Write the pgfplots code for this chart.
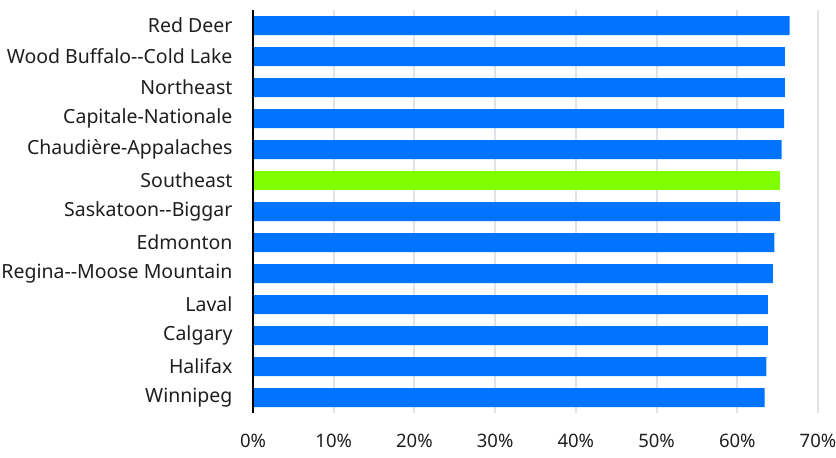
\documentclass[border=0pt]{standalone}
\usepackage{pgfplots}
\pgfplotsset{compat=1.18}
\usepackage{fontspec}
\setmainfont{Noto Sans}
\definecolor{barblue}{RGB}{0,116,255}
\definecolor{bargreen}{RGB}{127,255,0}
\definecolor{gridgray}{RGB}{225,226,232}
\definecolor{txt}{RGB}{30,30,30}
\newcommand{\dd}{-\kern0pt-}
\begin{document}
\begin{tikzpicture}
\useasboundingbox (-253pt,-45pt) rectangle (583pt,413pt);
\begin{axis}[
  at={(0,0)}, anchor=south west,
  scale only axis, width=565pt, height=403pt,
  xbar, bar width=19pt,
  xmin=0, xmax=70,
  ymin=-0.5, ymax=12.5,
  y dir=reverse,
  ytick={0,...,12},
  yticklabels={Red Deer,Wood Buffalo\dd Cold Lake,Northeast,Capitale-Nationale,Chaudière-Appalaches,Southeast,Saskatoon\dd Biggar,Edmonton,Regina\dd Moose Mountain,Laval,Calgary,Halifax,Winnipeg},
  xtick={0,10,...,70},
  xticklabel={\pgfmathprintnumber{\tick}\%},
  /pgf/number format/assume math mode=true,
  tick style={draw=none},
  major tick length=0pt,
  xmajorgrids, grid style={draw=gridgray, line width=2pt},
  axis line style={draw=none},
  ticklabel style={text=txt},
  yticklabel style={xshift=-17pt, font=\fontsize{19.5}{22}\selectfont},
  xticklabel style={yshift=-18pt, font=\fontsize{18.5}{22}\selectfont},
  clip=false,
]
\addplot[draw=none, fill=barblue, bar shift=0pt] coordinates {
 (66.5,0) (65.9,1) (65.9,2) (65.8,3) (65.5,4) (65.3,6) (64.6,7) (64.4,8) (63.8,9) (63.8,10) (63.6,11) (63.4,12)};
\addplot[draw=none, fill=bargreen, bar shift=0pt] coordinates {(65.3,5)};
\draw[black, line width=2pt] (axis cs:0,-0.5) -- (axis cs:0,12.5);
\end{axis}
\end{tikzpicture}
\end{document}
